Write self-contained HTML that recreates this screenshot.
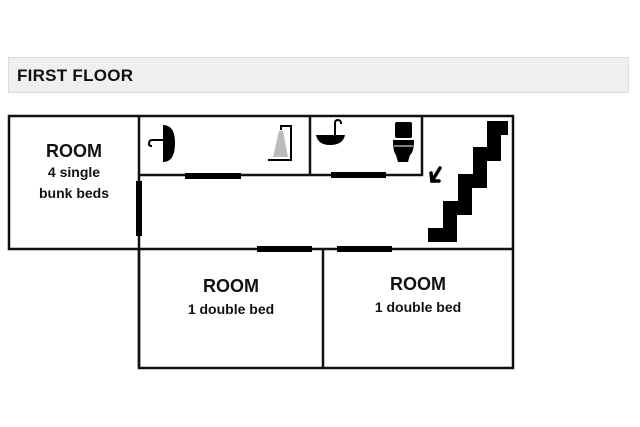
<!DOCTYPE html>
<html><head><style>
html,body{margin:0;padding:0;background:#fff;width:640px;height:427px;overflow:hidden}
svg{display:block}
text{font-family:"Liberation Sans",sans-serif;font-weight:bold;fill:#111}
</style></head><body>
<svg width="640" height="427" viewBox="0 0 640 427">
<rect x="8.5" y="57.5" width="620" height="35" fill="#efefef" stroke="#dcdcdc"/>
<text x="17" y="81" font-size="17" textLength="116">FIRST FLOOR</text>
<g stroke="#111" stroke-width="2.5" fill="none">
<rect x="9" y="116" width="504" height="133"/>
<line x1="139" y1="116" x2="139" y2="368"/>
<polyline points="139,175 422,175 422,116"/>
<line x1="310" y1="116" x2="310" y2="175"/>
<polyline points="139,249 139,368 513,368 513,249"/>
<line x1="323" y1="249" x2="323" y2="368"/>
</g>
<g fill="#000">
<rect x="185" y="173" width="56" height="6"/>
<rect x="331" y="172" width="55" height="6"/>
<rect x="136" y="181" width="6" height="55"/>
<rect x="257" y="246" width="55" height="6"/>
<rect x="337" y="246" width="55" height="6"/>
</g>
<polyline points="428,235 450,235 450,208 465,208 465,181 480,181 480,154 494,154 494,128 508,128" fill="none" stroke="#000" stroke-width="14" stroke-linejoin="miter" stroke-miterlimit="10"/>
<g stroke="#000" stroke-width="3.5" fill="none" stroke-linecap="round">
<line x1="440" y1="168" x2="432" y2="181"/>
<polyline points="431,173 432,181 439,181"/>
</g>
<!-- side sink -->
<path d="M163,125 Q175,125 175,143 Q175,162 163,162 Z" fill="#000"/>
<path d="M163,140 L152,140 Q149,140 149,144 Q149,146 152,146" fill="none" stroke="#000" stroke-width="2"/>
<!-- shower -->
<polyline points="268,160 291,160 291,126 281,126 281,130" fill="none" stroke="#000" stroke-width="2"/>
<path d="M279,131 L283,131 L288,157 L273,157 Z" fill="#bbb"/>
<!-- sink -->
<path d="M316,135 L345,135 Q343,145 330,145 Q318,145 316,135 Z" fill="#000"/>
<path d="M335,135 L335,123 Q335,120 338,120 Q341,120 341,124" fill="none" stroke="#000" stroke-width="2"/>
<!-- toilet -->
<rect x="395" y="122" width="17" height="16" rx="2" fill="#000"/>
<path d="M393,140 L414,140 Q414,152 410,155 L408,162 L398,162 L396,155 Q393,152 393,140 Z" fill="#000"/>
<line x1="394" y1="146" x2="413" y2="146" stroke="#fff" stroke-width="1"/>
</svg>
<div style="position:absolute;left:9px;top:140px;width:130px;text-align:center;font-family:'Liberation Sans',sans-serif;font-weight:bold;color:#111">
<div style="font-size:18px;line-height:22px">ROOM</div>
<div style="font-size:14px;line-height:21px">4 single<br>bunk beds</div></div>
<div style="position:absolute;left:139px;top:275px;width:184px;text-align:center;font-family:'Liberation Sans',sans-serif;font-weight:bold;color:#111">
<div style="font-size:18px;line-height:22px">ROOM</div>
<div style="font-size:14px;line-height:24px">1 double bed</div></div>
<div style="position:absolute;left:323px;top:273px;width:190px;text-align:center;font-family:'Liberation Sans',sans-serif;font-weight:bold;color:#111">
<div style="font-size:18px;line-height:22px">ROOM</div>
<div style="font-size:14px;line-height:24px">1 double bed</div></div>
</body></html>
